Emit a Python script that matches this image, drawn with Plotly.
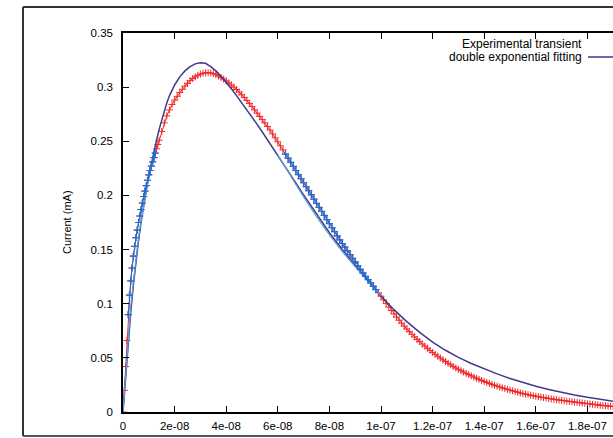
import plotly.graph_objects as go

# ---------------- data (time in ns, current in mA) ----------------
red_t_ns = [0, 0.5, 1, 1.5, 2, 2.5, 3, 3.5, 4, 4.5, 5, 5.5, 6, 6.5, 7, 7.5, 8, 8.5, 9, 9.5,
            10, 10.5, 11, 11.5, 12, 12.5, 13, 13.5, 14,
            15, 16, 17, 18, 19, 20, 21, 22, 23, 24, 25, 26, 27, 28, 29, 30, 31, 32, 33, 34,
            35, 36, 37, 38, 39, 40, 41, 42, 43, 44, 45, 46, 47, 48, 49, 50, 51, 52, 53, 54,
            55, 56, 57, 58, 59, 60, 61, 62, 63, 64, 65, 66, 67, 68, 69, 70, 71, 72, 73, 74,
            75, 76, 77, 78, 79, 80, 81, 82, 83, 84, 85, 86, 87, 88, 89, 90, 91, 92, 93, 94,
            95, 96, 97, 98, 99, 100, 101, 102, 103, 104, 105, 106, 107, 108, 109, 110, 111,
            112, 113, 114, 115, 116, 117, 118, 119, 120, 121, 122, 123, 124, 125, 126, 127,
            128, 129, 130, 131, 132, 133, 134, 135, 136, 137, 138, 139, 140, 141, 142, 143,
            144, 145, 146, 147, 148, 149, 150, 151, 152, 153, 154, 155, 156, 157, 158, 159,
            160, 161, 162, 163, 164, 165, 166, 167, 168, 169, 170, 171, 172, 173, 174, 175,
            176, 177, 178, 179, 180, 181, 182, 183, 184, 185, 186, 187, 188, 189, 190]
red_i = [0.000, 0.020, 0.042, 0.066, 0.090, 0.108, 0.121, 0.133, 0.144, 0.153, 0.161, 0.168,
         0.175, 0.181, 0.187, 0.193, 0.199, 0.204, 0.209, 0.214, 0.219, 0.223, 0.227, 0.231,
         0.235, 0.239, 0.243, 0.247, 0.251,
         0.259, 0.267, 0.2735, 0.279, 0.284, 0.288, 0.2915, 0.295, 0.298, 0.301, 0.3035,
         0.306, 0.308, 0.3095, 0.311, 0.312, 0.3128, 0.3132, 0.3133, 0.3132,
         0.3125, 0.3115, 0.3103, 0.309, 0.3075, 0.3058, 0.304, 0.302, 0.300, 0.2978,
         0.2955, 0.293, 0.2905, 0.2878, 0.285, 0.282, 0.279, 0.276, 0.273, 0.270,
         0.267, 0.2637, 0.2603, 0.2568, 0.2532, 0.2495, 0.2458, 0.242, 0.2382, 0.2344,
         0.2306, 0.2268, 0.223, 0.2192, 0.2154, 0.2117, 0.208, 0.2043, 0.2006, 0.1965,
         0.1927, 0.189, 0.1852, 0.1815, 0.1777, 0.174, 0.1702, 0.1665, 0.1627, 0.159,
         0.1556, 0.1522, 0.1488, 0.1454, 0.142, 0.1386, 0.1352, 0.1318, 0.1284, 0.1253,
         0.1223, 0.1192, 0.1162, 0.1131, 0.110, 0.107, 0.1035, 0.1001, 0.0968, 0.0937,
         0.0906, 0.0876, 0.0848, 0.082, 0.0793, 0.0767, 0.0742, 0.0718, 0.0694, 0.0671,
         0.065, 0.0628, 0.0608, 0.0588, 0.0569, 0.055, 0.0532, 0.0515, 0.0498, 0.0481,
         0.0466, 0.045, 0.0436, 0.0421, 0.0407, 0.0394, 0.0381, 0.0369, 0.0357, 0.0345,
         0.0334, 0.0323, 0.0312, 0.0302, 0.0292, 0.0282, 0.0273, 0.0264, 0.0255, 0.0247,
         0.0239, 0.0231, 0.0223, 0.0216, 0.0209, 0.0202, 0.0195, 0.0189, 0.0182, 0.0176,
         0.017, 0.0165, 0.016, 0.0155, 0.015, 0.0145, 0.0141, 0.0137, 0.0133, 0.0129,
         0.0125, 0.0121, 0.0117, 0.0113, 0.011, 0.0107, 0.0104, 0.0101, 0.0098, 0.0095,
         0.0092, 0.0089, 0.0086, 0.0083, 0.008, 0.0077, 0.0074, 0.0071, 0.0068, 0.0065,
         0.0062, 0.006, 0.0058, 0.0055, 0.0053, 0.0051]

# time windows (ns) of the points used for the fit (blue markers)
fit_windows_ns = [(2.0, 12.5), (63, 98)]

# double exponential fitting curve
fit_t_ns = [0, 1, 2, 3, 4, 5, 6, 7, 8, 9, 10, 11, 12, 13, 14, 15, 16, 17, 18, 19, 20, 22, 24,
            26, 28, 30, 32, 34, 36, 38, 40, 42, 44, 46, 48, 50, 52, 54, 56, 58, 60, 63, 66,
            70, 75, 80, 85, 90, 95, 100, 105, 110, 115, 120, 125, 130, 135, 140, 145, 150,
            155, 160, 165, 170, 175, 180, 185, 190]
fit_i = [0.000, 0.033, 0.064, 0.092, 0.117, 0.139, 0.158, 0.175, 0.191, 0.205, 0.218, 0.230,
         0.241, 0.251, 0.261, 0.270, 0.278, 0.2855, 0.292, 0.2975, 0.302, 0.3095, 0.315,
         0.319, 0.3215, 0.3225, 0.322, 0.319, 0.315, 0.310, 0.3045, 0.2985, 0.2922, 0.2858,
         0.2792, 0.2725, 0.2656, 0.2586, 0.2515, 0.2443, 0.237, 0.226, 0.215,
         0.2005, 0.1825, 0.1655, 0.150, 0.1355, 0.1218, 0.107, 0.0945, 0.0835, 0.0735,
         0.0645, 0.057, 0.0505, 0.0448, 0.0397, 0.0352, 0.031, 0.0272, 0.0238, 0.0208,
         0.0181, 0.0157, 0.0136, 0.0117, 0.010]

# partial fit curves drawn over the fit windows (light blue)
win1_t_ns = [0, 1, 2, 3, 4, 5, 6, 7, 8, 9, 10, 11]
win1_i = [0.000, 0.033, 0.065, 0.097, 0.120, 0.142, 0.160, 0.176, 0.191, 0.205, 0.217, 0.228]
win2_t_ns = [60, 65, 70, 75, 80, 85, 90, 95, 100]
win2_i = [0.2375, 0.2175, 0.1985, 0.1805, 0.1635, 0.148, 0.134, 0.1205, 0.1075]

x_tick_vals_s = [0, 2e-8, 4e-8, 6e-8, 8e-8, 1e-7, 1.2e-7, 1.4e-7, 1.6e-7, 1.8e-7]
x_tick_text = ["0", "2e-08", "4e-08", "6e-08", "8e-08", "1e-07", "1.2e-07", "1.4e-07",
               "1.6e-07", "1.8e-07"]
y_tick_vals = [0, 0.05, 0.1, 0.15, 0.2, 0.25, 0.3, 0.35]
y_tick_text = ["0", "0.05", "0.1", "0.15", "0.2", "0.25", "0.3", "0.35"]

legend_labels = ["Experimental transient", "double exponential fitting"]
y_title = "Current (mA)"

# ---------------- styling ----------------
RED = "rgb(238,40,40)"
PURPLE = "rgb(64,56,140)"
BLUE_MK = "rgb(24,112,214)"
LIGHT_BLUE = "rgb(90,160,218)"
FONT = "Arial, 'Liberation Sans', sans-serif"

NS = 1e-9
red_x = [t * NS for t in red_t_ns]
blue_segments = []
for a, b in fit_windows_ns:
    seg = [(t * NS, v) for t, v in zip(red_t_ns, red_i) if a <= t <= b]
    blue_segments.append(seg)
blue_x, blue_y = [], []
for seg in blue_segments:
    blue_x += [p[0] for p in seg] + [None]
    blue_y += [p[1] for p in seg] + [None]

fig = go.Figure()
fig.add_trace(go.Scatter(
    x=red_x, y=red_i, mode="lines+markers", name=legend_labels[0], showlegend=False,
    line=dict(color=RED, width=1),
    marker=dict(symbol="cross-thin", size=5, line=dict(color=RED, width=1))))
fig.add_trace(go.Scatter(
    x=[t * NS for t in fit_t_ns], y=fit_i, mode="lines", name=legend_labels[1],
    showlegend=False, line=dict(color=PURPLE, width=1.5)))
fig.add_trace(go.Scatter(
    x=[t * NS for t in win1_t_ns] + [None] + [t * NS for t in win2_t_ns],
    y=win1_i + [None] + win2_i, mode="lines", showlegend=False,
    line=dict(color=LIGHT_BLUE, width=1.2)))
fig.add_trace(go.Scatter(
    x=blue_x, y=blue_y, mode="lines+markers", showlegend=False, connectgaps=False,
    line=dict(color=BLUE_MK, width=1),
    marker=dict(symbol="cross-thin", size=5, line=dict(color=BLUE_MK, width=1.2))))

# plot area: x 123..613 px, y 33..412 px
L, T, B = 123, 33, 26
W, H = 613, 438
pw, ph = W - L, H - T - B


def px(xp):
    return (xp - L) / pw


def py(yp):
    return (H - B - yp) / ph


shapes = [
    # outer frame (cropped on the right)
    dict(type="line", xref="paper", yref="paper", x0=px(23), x1=px(23), y0=py(7), y1=py(436),
         line=dict(color="#333", width=2)),
    dict(type="line", xref="paper", yref="paper", x0=px(23), x1=px(640), y0=py(7), y1=py(7),
         line=dict(color="#333", width=2)),
    dict(type="line", xref="paper", yref="paper", x0=px(23), x1=px(640), y0=py(436), y1=py(436),
         line=dict(color="#555", width=2)),
    # legend sample line
    dict(type="line", xref="paper", yref="paper", x0=px(588), x1=px(640), y0=py(57), y1=py(57),
         line=dict(color=PURPLE, width=1.5)),
]

annotations = [
    dict(text=legend_labels[0], xref="paper", yref="paper", x=px(584), y=py(44),
         xanchor="right", yanchor="middle", showarrow=False,
         font=dict(family=FONT, size=12, color="black")),
    dict(text=legend_labels[1], xref="paper", yref="paper", x=px(584), y=py(57),
         xanchor="right", yanchor="middle", showarrow=False,
         font=dict(family=FONT, size=12, color="black")),
    dict(text=y_title, xref="paper", yref="paper", x=px(67), y=py(222), textangle=-90,
         xanchor="center", yanchor="middle", showarrow=False,
         font=dict(family=FONT, size=11, color="black")),
]

fig.update_layout(
    width=W, height=H, margin=dict(l=L, r=0, t=T, b=B, pad=0),
    paper_bgcolor="white", plot_bgcolor="white",
    font=dict(family=FONT, size=11.5, color="black"),
    shapes=shapes, annotations=annotations, showlegend=False,
    xaxis=dict(range=[0, (W - L) / 258 * 1e-7], tickvals=x_tick_vals_s, ticktext=x_tick_text,
               ticks="inside", ticklen=6, tickwidth=1, tickcolor="black",
               showline=True, linecolor="black", linewidth=1.5, mirror="ticks",
               showgrid=False, zeroline=False, tickfont=dict(size=11.5),
               ticklabelstandoff=2),
    yaxis=dict(range=[0, 0.35], tickvals=y_tick_vals, ticktext=y_tick_text,
               ticks="inside", ticklen=6, tickwidth=1, tickcolor="black",
               showline=True, linecolor="black", linewidth=1.5, mirror=False,
               showgrid=False, zeroline=False, tickfont=dict(size=11.5),
               ticklabelstandoff=6),
)

fig.write_html("out.html")
